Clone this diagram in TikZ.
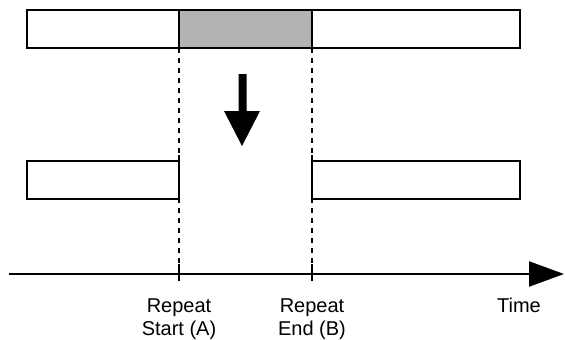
\documentclass[tikz,border=0pt]{standalone}
\usepackage{fontspec}
\setmainfont{Liberation Sans}
\usetikzlibrary{arrows.meta}
\definecolor{regiongray}{RGB}{179,179,179}
\begin{document}
\begin{tikzpicture}[x=1pt,y=-1pt, line width=2.2pt,
  bar/.style={draw=black, line width=2.2pt, fill=white},
  guide/.style={line width=2.2pt, dash pattern=on 5pt off 5pt},
  solidguide/.style={line width=2.2pt},
  lbl/.style={font=\fontsize{20}{23}\selectfont, inner sep=0pt, align=center, anchor=base},
  axisline/.style={line width=2.2pt, -{Triangle[length=35pt,width=25pt]}}]
\useasboundingbox (0,0) rectangle (565,340);
% guide lines
\coordinate (aTop) at (179,48); \coordinate (aBot) at (179,281);
\coordinate (bTop) at (312,48); \coordinate (bBot) at (312,281);
\coordinate (aBarTop) at (179,155); \coordinate (aBarBot) at (179,202);
\coordinate (bBarTop) at (312,155); \coordinate (bBarBot) at (312,202);
\coordinate (aTickTop) at (179,264); \coordinate (bTickTop) at (312,264);
\draw[guide] (aTop) -- (aBot);
\draw[guide] (bTop) -- (bBot);
% bars
\draw[bar] (27,10) rectangle (520,48);
\draw[bar, fill=regiongray] (179,10) rectangle (312,48);
\draw[bar] (27,161) rectangle (179,199);
\draw[bar] (312,161) rectangle (520,199);
\draw[solidguide] (aBarTop) -- (aBarBot);
\draw[solidguide] (bBarTop) -- (bBarBot);
\draw[solidguide] (aTickTop) -- (aBot);
\draw[solidguide] (bTickTop) -- (bBot);
% down arrow
\fill[black] (238.5,74) -- (246.5,74) -- (246.5,111) -- (260,111) -- (242,146)
  -- (224,111) -- (238.5,111) -- cycle;
% time axis
\coordinate (axStart) at (9,274);
\coordinate (axEnd) at (564,274);
\draw[axisline] (axStart) -- (axEnd);
% labels
\node[lbl] (lblA) at (179,335) {Repeat\\Start (A)};
\node[lbl] (lblB) at (312,335) {Repeat\\End (B)};
\node[lbl] (lblT) at (519,312) {Time};
\end{tikzpicture}
\end{document}
